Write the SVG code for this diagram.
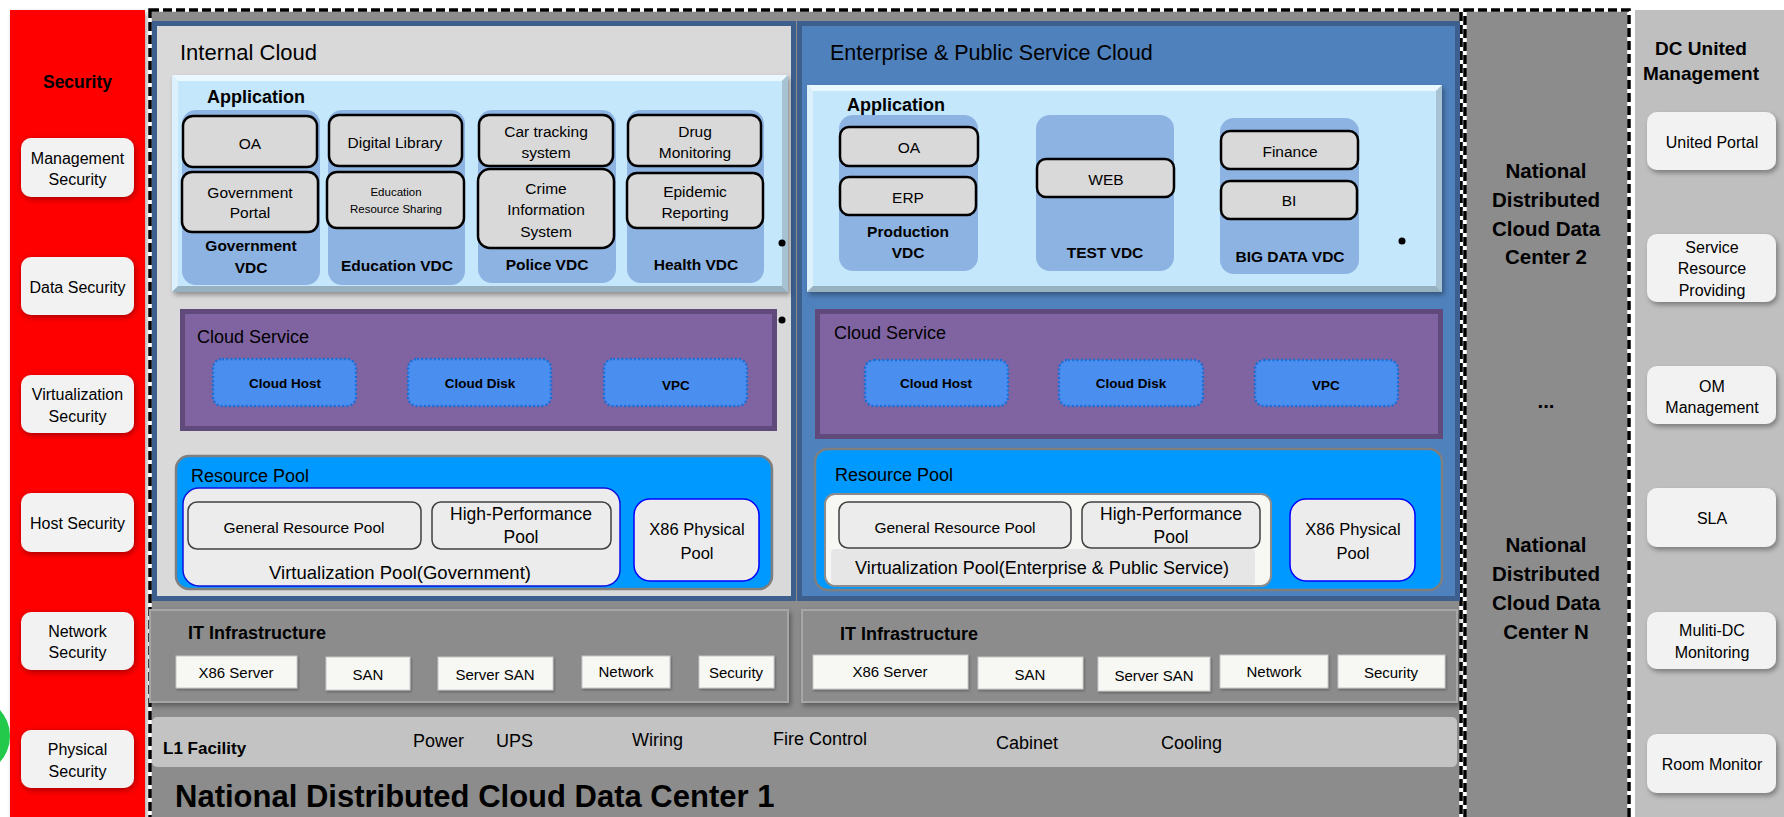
<svg xmlns="http://www.w3.org/2000/svg" width="1784" height="817" viewBox="0 0 1784 817">
<defs>
<style>
text{font-family:"Liberation Sans",Arial,sans-serif;fill:#000}
.c{text-anchor:middle;dominant-baseline:central}
.l{dominant-baseline:central}
.b{font-weight:bold}
.f15{font-size:15px}.f155{font-size:15.5px}.f16{font-size:16px}.f17{font-size:17px}.f18{font-size:18px}.f19{font-size:19px}.f20{font-size:20.5px}.f22{font-size:22px}
.sbox{fill:#f2f2f2;filter:url(#shr)}
.mbox{fill:#f2f2f2;filter:url(#sh)}
.vdc{fill:#8db3e2}
.app{fill:#d9d9d9;stroke:#000;stroke-width:2.5}
.cs{fill:#8064a2;stroke:#604a7b;stroke-width:5}
.cb{fill:#4a8eef;stroke:#1a6fd6;stroke-width:2.5;stroke-dasharray:2 2.2}
.rp{fill:#0099ff;stroke:#7f7f7f;stroke-width:2.5}
.pool{fill:#ececec;stroke:#404040;stroke-width:1.5}
.phy{fill:#ececec;stroke:#0000ff;stroke-width:1.5}
.it{fill:#8c8c8c;stroke:#a6a6a6;stroke-width:2;filter:url(#sh)}
.iti{fill:#f7f7f3;stroke:#c8c8c8;stroke-width:1;filter:url(#shs)}
.dash{fill:none;stroke:#000;stroke-width:3.5;stroke-dasharray:9 4}
.dashbg{fill:none;stroke:#fff;stroke-width:3.5}
.bvT{fill:#eaf7fe}.bvL{fill:#dcf1fc}.bvR{fill:#a7c2d3}.bvB{fill:#98b1c1}.bvM{fill:#c4e7fb}
.dot{fill:#000}
</style>
<filter id="sh" x="-10%" y="-10%" width="130%" height="140%"><feDropShadow dx="2" dy="3" stdDeviation="2.5" flood-color="#000" flood-opacity="0.35"/></filter>
<filter id="shs" x="-10%" y="-10%" width="130%" height="150%"><feDropShadow dx="1" dy="1.5" stdDeviation="1" flood-color="#000" flood-opacity="0.3"/></filter>
<filter id="shr" x="-10%" y="-10%" width="130%" height="140%"><feDropShadow dx="1" dy="2" stdDeviation="3" flood-color="#7a0000" flood-opacity="0.7"/></filter>
</defs>
<rect x="0" y="0" width="1784" height="817" fill="#ffffff"/>

<!-- Security column -->
<g id="security">
<rect x="10" y="10" width="135" height="812" fill="#ff0000" filter="url(#sh)"/>
<circle cx="-29" cy="736" r="39" fill="#22c94a"/>
<text class="c b" x="77.5" y="82" style="font-size:17.5px">Security</text>
</g>
<g id="sec-management"><rect class="sbox" x="21" y="138" width="113" height="59" rx="10"/><text class="c f16" x="77.5"><tspan x="77.5" y="158">Management</tspan><tspan x="77.5" y="179">Security</tspan></text></g>
<g id="sec-data"><rect class="sbox" x="21" y="257" width="113" height="58" rx="10"/><text class="c f16" x="77.5" y="287">Data Security</text></g>
<g id="sec-virtualization"><rect class="sbox" x="21" y="375" width="113" height="58" rx="10"/><text class="c f16" x="77.5"><tspan x="77.5" y="394">Virtualization</tspan><tspan x="77.5" y="416">Security</tspan></text></g>
<g id="sec-host"><rect class="sbox" x="21" y="493" width="113" height="59" rx="10"/><text class="c f16" x="77.5" y="523">Host Security</text></g>
<g id="sec-network"><rect class="sbox" x="21" y="612" width="113" height="58" rx="10"/><text class="c f16" x="77.5"><tspan x="77.5" y="631">Network</tspan><tspan x="77.5" y="652">Security</tspan></text></g>
<g id="sec-physical"><rect class="sbox" x="21" y="730" width="113" height="58" rx="10"/><text class="c f16" x="77.5"><tspan x="77.5" y="749">Physical</tspan><tspan x="77.5" y="771">Security</tspan></text></g>

<!-- Data center 1 -->
<g id="dc1">
<rect x="150" y="10" width="1311" height="812" fill="#8c8c8c"/>
<rect class="dashbg" x="150" y="10" width="1311" height="812"/>
<rect class="dash" x="150" y="10" width="1311" height="812"/>
<text class="b" x="175" y="807" style="font-size:31px">National Distributed Cloud Data Center 1</text>
</g>

<!-- Internal Cloud -->
<g id="internal-cloud">
<rect x="154.5" y="23.5" width="639" height="575" fill="#d9d9d9" stroke="#3c5f8e" stroke-width="5"/>
<text class="l f22" x="180" y="52">Internal Cloud</text>
</g>
<g id="internal-application">
<g filter="url(#sh)">
<rect class="bvM" x="172" y="75" width="616" height="217"/>
<polygon class="bvT" points="172,75 788,75 782,81 178,81"/>
<polygon class="bvL" points="172,75 178,81 178,286 172,292"/>
<polygon class="bvR" points="788,75 788,292 782,286 782,81"/>
<polygon class="bvB" points="172,292 788,292 782,286 178,286"/>
</g>
<text class="b f18" x="207" y="97" style="dominant-baseline:central">Application</text>
</g>
<g id="vdc-government">
<rect class="vdc" x="182" y="110" width="138" height="175" rx="14"/>
<text class="c b f155"><tspan x="251" y="245">Government</tspan><tspan x="251" y="267">VDC</tspan></text>
</g>
<g id="app-oa-gov"><rect class="app" x="183" y="116" width="134" height="51" rx="10"/><text class="c f155" x="250" y="143">OA</text></g>
<g id="app-gov-portal"><rect class="app" x="182" y="172" width="136" height="60" rx="10"/><text class="c f155"><tspan x="250" y="192">Government</tspan><tspan x="250" y="212">Portal</tspan></text></g>
<g id="vdc-education">
<rect class="vdc" x="328" y="110" width="137" height="175" rx="14"/>
<text class="c b f155" x="397" y="265">Education VDC</text>
</g>
<g id="app-digital-library"><rect class="app" x="329" y="115" width="133" height="51" rx="10"/><text class="c f155" x="395" y="142">Digital Library</text></g>
<g id="app-edu-sharing"><rect class="app" x="327" y="172" width="137" height="56" rx="10"/><text class="c" style="font-size:11.5px"><tspan x="396" y="192">Education</tspan><tspan x="396" y="209">Resource Sharing</tspan></text></g>
<g id="vdc-police">
<rect class="vdc" x="478" y="110" width="138" height="173" rx="14"/>
<text class="c b f155" x="547" y="264">Police VDC</text>
</g>
<g id="app-car-tracking"><rect class="app" x="479" y="115" width="134" height="51" rx="10"/><text class="c f155"><tspan x="546" y="131">Car tracking</tspan><tspan x="546" y="152">system</tspan></text></g>
<g id="app-crime-info"><rect class="app" x="478" y="169" width="136" height="79" rx="12"/><text class="c f155"><tspan x="546" y="188">Crime</tspan><tspan x="546" y="209">Information</tspan><tspan x="546" y="231">System</tspan></text></g>
<g id="vdc-health">
<rect class="vdc" x="627" y="110" width="137" height="173" rx="14"/>
<text class="c b f155" x="696" y="264">Health VDC</text>
</g>
<g id="app-drug"><rect class="app" x="628" y="115" width="133" height="51" rx="10"/><text class="c f155"><tspan x="695" y="131">Drug</tspan><tspan x="695" y="152">Monitoring</tspan></text></g>
<g id="app-epidemic"><rect class="app" x="627" y="173" width="136" height="55" rx="10"/><text class="c f155"><tspan x="695" y="191">Epidemic</tspan><tspan x="695" y="212">Reporting</tspan></text></g>
<circle class="dot" cx="782" cy="243" r="3.5"/>
<circle class="dot" cx="782" cy="320" r="3.5"/>

<g id="internal-cloud-service">
<rect class="cs" x="182.5" y="311.5" width="592" height="117"/>
<text class="l f18" x="197" y="337">Cloud Service</text>
</g>
<g id="int-cloud-host"><rect class="cb" x="213" y="359" width="143" height="47" rx="9"/><text class="c b" style="font-size:13.5px" x="285" y="383">Cloud Host</text></g>
<g id="int-cloud-disk"><rect class="cb" x="408" y="359" width="143" height="47" rx="9"/><text class="c b" style="font-size:13.5px" x="480" y="383">Cloud Disk</text></g>
<g id="int-vpc"><rect class="cb" x="604" y="359" width="143" height="47" rx="9"/><text class="c b" style="font-size:13.5px" x="676" y="385">VPC</text></g>

<g id="internal-resource-pool">
<rect class="rp" x="176" y="456" width="596" height="133" rx="13"/>
<text class="l f18" x="191" y="476">Resource Pool</text>
</g>
<g id="int-virt-pool">
<rect x="183" y="488" width="437" height="98" rx="16" fill="#ececec" stroke="#1010e0" stroke-width="1.5"/>
<text class="c" style="font-size:18.5px" x="400" y="572">Virtualization Pool(Government)</text>
</g>
<g id="int-general-pool"><rect class="pool" x="188" y="502" width="233" height="47" rx="9"/><text class="c f155" x="304" y="527">General Resource Pool</text></g>
<g id="int-hp-pool"><rect class="pool" x="432" y="502" width="179" height="47" rx="9"/><text class="c" style="font-size:17.5px"><tspan x="521" y="514">High-Performance</tspan><tspan x="521" y="537">Pool</tspan></text></g>
<g id="int-x86-pool"><rect class="phy" x="634" y="499" width="125" height="82" rx="16"/><text class="c" style="font-size:16.5px"><tspan x="697" y="529">X86 Physical</tspan><tspan x="697" y="553">Pool</tspan></text></g>

<!-- Enterprise Cloud -->
<g id="enterprise-cloud">
<rect x="799.5" y="23.5" width="658" height="575" fill="#4f81bd" stroke="#3c5f8e" stroke-width="5"/>
<text class="l" style="font-size:21.5px" x="830" y="53">Enterprise &amp; Public Service Cloud</text>
</g>
<g id="enterprise-application">
<g filter="url(#sh)">
<rect class="bvM" x="807" y="85" width="635" height="207"/>
<polygon class="bvT" points="807,85 1442,85 1436,91 813,91"/>
<polygon class="bvL" points="807,85 813,91 813,286 807,292"/>
<polygon class="bvR" points="1442,85 1442,292 1436,286 1436,91"/>
<polygon class="bvB" points="807,292 1442,292 1436,286 813,286"/>
</g>
<text class="b f18" x="847" y="105" style="dominant-baseline:central">Application</text>
</g>
<g id="vdc-production">
<rect class="vdc" x="839" y="115" width="139" height="156" rx="14"/>
<text class="c b f155"><tspan x="908" y="231">Production</tspan><tspan x="908" y="252">VDC</tspan></text>
</g>
<g id="app-oa-ent"><rect class="app" x="840" y="127" width="138" height="39" rx="9"/><text class="c f155" x="909" y="147">OA</text></g>
<g id="app-erp"><rect class="app" x="840" y="177" width="136" height="38" rx="9"/><text class="c f155" x="908" y="197">ERP</text></g>
<g id="vdc-test">
<rect class="vdc" x="1036" y="115" width="138" height="156" rx="14"/>
<text class="c b f155" x="1105" y="252">TEST VDC</text>
</g>
<g id="app-web"><rect class="app" x="1037" y="159" width="137" height="38" rx="9"/><text class="c f155" x="1106" y="179">WEB</text></g>
<g id="vdc-bigdata">
<rect class="vdc" x="1220" y="118" width="139" height="156" rx="14"/>
<text class="c b f155" x="1290" y="256">BIG DATA VDC</text>
</g>
<g id="app-finance"><rect class="app" x="1221" y="131" width="137" height="38" rx="9"/><text class="c f155" x="1290" y="151">Finance</text></g>
<g id="app-bi"><rect class="app" x="1221" y="181" width="136" height="38" rx="9"/><text class="c f155" x="1289" y="200">BI</text></g>
<circle class="dot" cx="1402" cy="241" r="3.5"/>
<circle class="dot" cx="1402" cy="318" r="3.5"/>

<g id="enterprise-cloud-service">
<rect class="cs" x="817.5" y="311.5" width="623" height="125"/>
<text class="l f18" x="834" y="333">Cloud Service</text>
</g>
<g id="ent-cloud-host"><rect class="cb" x="865" y="360" width="143" height="46" rx="9"/><text class="c b" style="font-size:13.5px" x="936" y="383">Cloud Host</text></g>
<g id="ent-cloud-disk"><rect class="cb" x="1059" y="360" width="144" height="46" rx="9"/><text class="c b" style="font-size:13.5px" x="1131" y="383">Cloud Disk</text></g>
<g id="ent-vpc"><rect class="cb" x="1255" y="360" width="143" height="46" rx="9"/><text class="c b" style="font-size:13.5px" x="1326" y="385">VPC</text></g>

<g id="enterprise-resource-pool">
<rect class="rp" x="815" y="449" width="627" height="141" rx="13"/>
<text class="l f18" x="835" y="475">Resource Pool</text>
</g>
<g id="ent-virt-pool">
<rect x="825" y="494" width="446" height="92" rx="10" fill="#f7f7f4" stroke="#8c8c8c" stroke-width="2"/>
<rect x="831" y="549" width="424" height="36" rx="4" fill="#e6e6e6"/>
<text class="c f18" x="1042" y="568">Virtualization Pool(Enterprise &amp; Public Service)</text>
</g>
<g id="ent-general-pool"><rect class="pool" x="839" y="502" width="232" height="46" rx="9"/><text class="c f155" x="955" y="527">General Resource Pool</text></g>
<g id="ent-hp-pool"><rect class="pool" x="1082" y="502" width="178" height="46" rx="9"/><text class="c" style="font-size:17.5px"><tspan x="1171" y="514">High-Performance</tspan><tspan x="1171" y="537">Pool</tspan></text></g>
<g id="ent-x86-pool"><rect class="phy" x="1290" y="499" width="125" height="82" rx="16"/><text class="c" style="font-size:16.5px"><tspan x="1353" y="529">X86 Physical</tspan><tspan x="1353" y="553">Pool</tspan></text></g>

<!-- IT Infrastructure -->
<g id="internal-it">
<rect class="it" x="150" y="610" width="638" height="92"/>
<text class="l b f18" x="188" y="633">IT Infrastructure</text>
</g>
<g id="int-x86-server"><rect class="iti" x="176" y="656" width="121" height="32"/><text class="c f15" x="236" y="672">X86 Server</text></g>
<g id="int-san"><rect class="iti" x="326" y="657" width="84" height="33"/><text class="c f15" x="368" y="674">SAN</text></g>
<g id="int-server-san"><rect class="iti" x="438" y="657" width="115" height="33"/><text class="c f15" x="495" y="674">Server SAN</text></g>
<g id="int-network"><rect class="iti" x="582" y="656" width="88" height="32"/><text class="c f15" x="626" y="671">Network</text></g>
<g id="int-security"><rect class="iti" x="699" y="656" width="75" height="32"/><text class="c f15" x="736" y="672">Security</text></g>

<g id="enterprise-it">
<rect class="it" x="802" y="610" width="655" height="92"/>
<text class="l b f18" x="840" y="634">IT Infrastructure</text>
</g>
<g id="ent-x86-server"><rect class="iti" x="813" y="655" width="155" height="34"/><text class="c f15" x="890" y="671">X86 Server</text></g>
<g id="ent-san"><rect class="iti" x="978" y="657" width="105" height="32"/><text class="c f15" x="1030" y="674">SAN</text></g>
<g id="ent-server-san"><rect class="iti" x="1098" y="657" width="112" height="34"/><text class="c f15" x="1154" y="675">Server SAN</text></g>
<g id="ent-network"><rect class="iti" x="1220" y="655" width="108" height="33"/><text class="c f15" x="1274" y="671">Network</text></g>
<g id="ent-security"><rect class="iti" x="1338" y="655" width="107" height="33"/><text class="c f15" x="1391" y="672">Security</text></g>

<!-- L1 facility -->
<g id="l1-facility">
<rect x="152" y="717" width="1305" height="50" rx="5" fill="#c3c3c3"/>
<text class="l b f17" x="163" y="748">L1 Facility</text>
<text class="l f18" x="413" y="741">Power</text>
<text class="l f18" x="496" y="741">UPS</text>
<text class="l f18" x="632" y="740">Wiring</text>
<text class="l f18" x="773" y="739">Fire Control</text>
<text class="l f18" x="996" y="743">Cabinet</text>
<text class="l f18" x="1161" y="743">Cooling</text>
</g>

<!-- Other data centers -->
<g id="dc2-n">
<rect x="1465" y="10" width="164" height="812" fill="#8c8c8c"/>
<rect class="dashbg" x="1465" y="10" width="164" height="812"/>
<rect class="dash" x="1465" y="10" width="164" height="812"/>
<text class="c b f20"><tspan x="1546" y="170">National</tspan><tspan x="1546" y="199">Distributed</tspan><tspan x="1546" y="228">Cloud Data</tspan><tspan x="1546" y="256">Center 2</tspan></text>
<text class="c b f20" x="1546" y="400">...</text>
<text class="c b f20"><tspan x="1546" y="544">National</tspan><tspan x="1546" y="573">Distributed</tspan><tspan x="1546" y="602">Cloud Data</tspan><tspan x="1546" y="631">Center N</tspan></text>
</g>

<!-- DC United Management -->
<g id="dc-united-management">
<rect x="1635" y="10" width="155" height="812" fill="#bfbfbf"/>
<text class="c b f19"><tspan x="1701" y="48">DC United</tspan><tspan x="1701" y="73">Management</tspan></text>
</g>
<g id="m-united-portal"><rect class="mbox" x="1647" y="112" width="129" height="58" rx="10"/><text class="c f16" x="1712" y="142">United Portal</text></g>
<g id="m-service-resource"><rect class="mbox" x="1647" y="234" width="129" height="68" rx="10"/><text class="c f16"><tspan x="1712" y="247">Service</tspan><tspan x="1712" y="268">Resource</tspan><tspan x="1712" y="290">Providing</tspan></text></g>
<g id="m-om"><rect class="mbox" x="1647" y="366" width="129" height="58" rx="10"/><text class="c f16"><tspan x="1712" y="386">OM</tspan><tspan x="1712" y="407">Management</tspan></text></g>
<g id="m-sla"><rect class="mbox" x="1647" y="488" width="129" height="59" rx="10"/><text class="c f16" x="1712" y="518">SLA</text></g>
<g id="m-multi-dc"><rect class="mbox" x="1647" y="612" width="129" height="57" rx="10"/><text class="c f16"><tspan x="1712" y="630">Muliti-DC</tspan><tspan x="1712" y="652">Monitoring</tspan></text></g>
<g id="m-room"><rect class="mbox" x="1647" y="734" width="129" height="59" rx="10"/><text class="c f16" x="1712" y="764">Room Monitor</text></g>

<g id="connectors"></g>
</svg>
